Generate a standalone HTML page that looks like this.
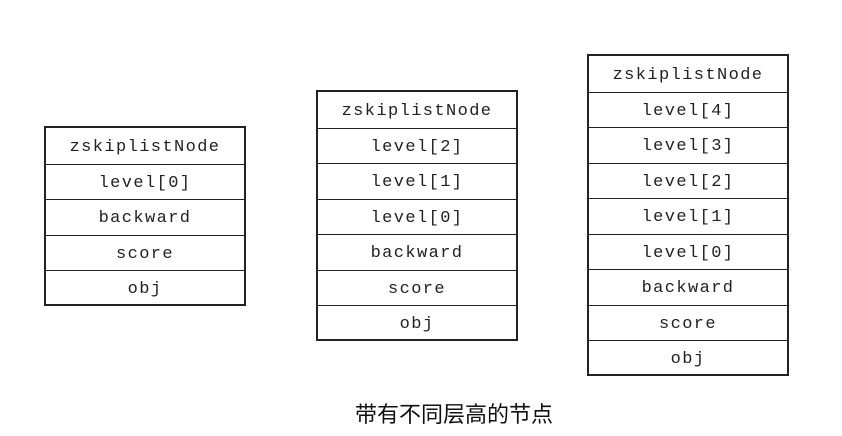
<!DOCTYPE html>
<html><head><meta charset="utf-8"><style>
body{margin:0;width:842px;height:436px;background:#fff;position:relative;overflow:hidden;font-family:"Liberation Mono",monospace;}
.b{position:absolute;border:2px solid #222;box-sizing:border-box;}
.r{box-sizing:border-box;border-top:1.5px solid #222;display:flex;align-items:center;justify-content:center;font-size:17px;letter-spacing:1.4px;color:#222;padding-top:3px;}
.r:first-child{border-top:none;}
.cap{position:absolute;left:355px;top:397px;font-family:"Liberation Sans","Noto Sans CJK SC",sans-serif;font-size:22px;color:#111;}
</style></head><body>
<div class="b" style="left:44px;top:126px;width:202px;height:180px;">
<div class="r" style="height:35.5px">zskiplistNode</div><div class="r" style="height:35.5px">level[0]</div><div class="r" style="height:35.5px">backward</div><div class="r" style="height:35.5px">score</div><div class="r" style="height:34px">obj</div></div>
<div class="b" style="left:316px;top:90px;width:202px;height:251px;">
<div class="r" style="height:35.5px">zskiplistNode</div><div class="r" style="height:35.5px">level[2]</div><div class="r" style="height:35.5px">level[1]</div><div class="r" style="height:35.5px">level[0]</div><div class="r" style="height:35.5px">backward</div><div class="r" style="height:35.5px">score</div><div class="r" style="height:34px">obj</div></div>
<div class="b" style="left:587px;top:54px;width:202px;height:322px;">
<div class="r" style="height:35.5px">zskiplistNode</div><div class="r" style="height:35.5px">level[4]</div><div class="r" style="height:35.5px">level[3]</div><div class="r" style="height:35.5px">level[2]</div><div class="r" style="height:35.5px">level[1]</div><div class="r" style="height:35.5px">level[0]</div><div class="r" style="height:35.5px">backward</div><div class="r" style="height:35.5px">score</div><div class="r" style="height:34px">obj</div></div>
<div class="cap">带有不同层高的节点</div>
</body></html>
